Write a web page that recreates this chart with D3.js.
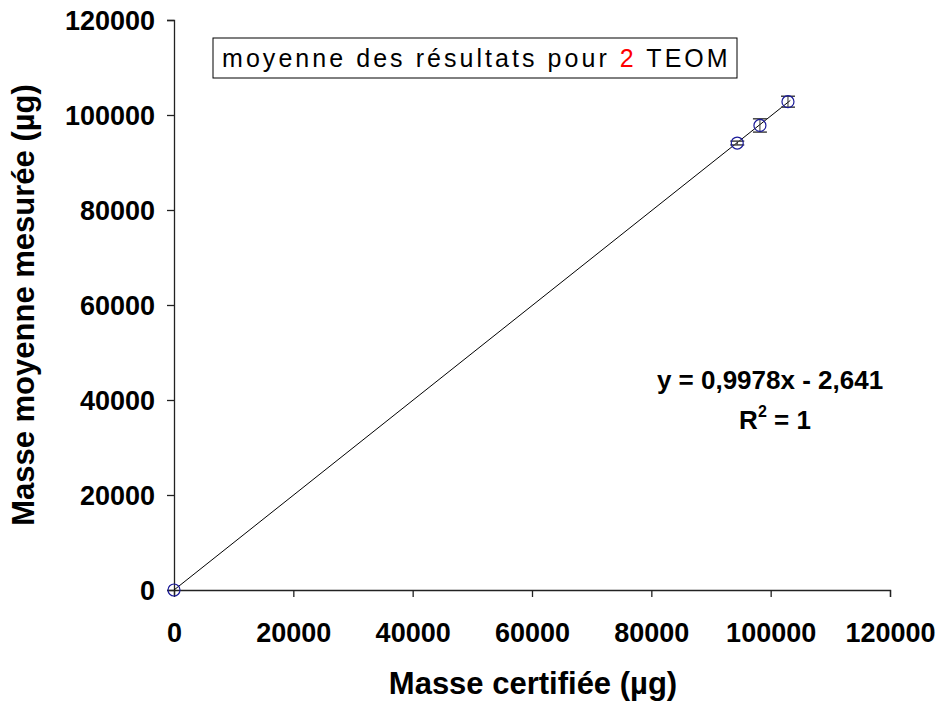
<!DOCTYPE html>
<html>
<head>
<meta charset="utf-8">
<script src="https://cdn.jsdelivr.net/npm/d3@7"></script>
<style>
  body { margin: 0; background: #fff; }
  text { font-family: "Liberation Sans", Arial, sans-serif; }
</style>
</head>
<body>
<script>
// data
var masseCertifiee = [0, 94400, 98200, 102900];
var masseMesuree = [0, 94100, 97800, 102800];
var ecartType = [0, 400, 1400, 1150];
var ticks = [0, 20000, 40000, 60000, 80000, 100000, 120000];
var pente = 0.9978, ordonnee = -2.641;

var margin = { left: 174, right: 50, top: 20, bottom: 116 };
var width = 940 - margin.left - margin.right;
var height = 706 - margin.top - margin.bottom;

var svg = d3.select("body").append("svg")
    .attr("width", 940)
    .attr("height", 706)
    .append("g")
    .attr("transform", `translate(${margin.left}, ${margin.top})`);

var x = d3.scaleLinear().domain([0, 120000]).range([0, width]);
var y = d3.scaleLinear().domain([0, 120000]).range([height, 0]);

var fmt = d3.format("d");
var xAxis = svg.append("g")
    .attr("transform", `translate(0, ${height})`)
    .call(d3.axisBottom(x).tickValues(ticks).tickFormat(fmt).tickSize(7).tickSizeOuter(7).tickPadding(26));
var yAxis = svg.append("g")
    .call(d3.axisLeft(y).tickValues(ticks).tickFormat(fmt).tickSize(7).tickSizeOuter(7).tickPadding(12));

[xAxis, yAxis].forEach(a => {
    a.select(".domain").attr("stroke", "#222").attr("stroke-width", 1.3);
    a.selectAll(".tick line").attr("stroke", "#222").attr("stroke-width", 1.3);
    a.selectAll("text")
        .attr("font-family", "Liberation Sans, Arial, sans-serif")
        .attr("font-size", 27)
        .attr("font-weight", "bold")
        .attr("fill", "#000");
});
yAxis.selectAll("text").attr("dy", "0.35em");

// axis titles
svg.append("text")
    .attr("x", 359)
    .attr("y", height + 104)
    .attr("text-anchor", "middle")
    .attr("font-size", 31)
    .attr("font-weight", "bold")
    .text("Masse certifiée (µg)");

svg.append("text")
    .attr("x", -(height / 2))
    .attr("y", -140)
    .attr("transform", "rotate(-90)")
    .attr("text-anchor", "middle")
    .attr("font-size", 31)
    .attr("font-weight", "bold")
    .text("Masse moyenne mesurée (µg)");

// trend line
var xMax = d3.max(masseCertifiee);
svg.append("line")
    .attr("x1", x(0)).attr("y1", y(ordonnee))
    .attr("x2", x(xMax + 400)).attr("y2", y(pente * (xMax + 400) + ordonnee))
    .attr("stroke", "#000")
    .attr("stroke-width", 1);

// error bars
var pts = masseCertifiee.map((d, i) => ({ x: d, y: masseMesuree[i], e: ecartType[i] }));
var err = svg.selectAll(".err").data(pts.filter(d => d.e > 0)).enter().append("g");
err.append("line")
    .attr("x1", d => x(d.x)).attr("x2", d => x(d.x))
    .attr("y1", d => y(d.y + d.e)).attr("y2", d => y(d.y - d.e))
    .attr("stroke", "#333");
[1, -1].forEach(s => {
    err.append("line")
        .attr("x1", d => x(d.x) - 7).attr("x2", d => x(d.x) + 7)
        .attr("y1", d => y(d.y + s * d.e)).attr("y2", d => y(d.y + s * d.e))
        .attr("stroke", "#444").attr("stroke-width", 1.5);
});

// points
svg.selectAll(".pt").data(pts).enter().append("circle")
    .attr("cx", d => x(d.x))
    .attr("cy", d => y(d.y))
    .attr("r", 6)
    .attr("fill", "none")
    .attr("stroke", "#1a1a99")
    .attr("stroke-width", 1.2);

// legend box
svg.append("rect")
    .attr("x", 39).attr("y", 18)
    .attr("width", 524).attr("height", 40)
    .attr("fill", "#fff")
    .attr("stroke", "#000");
var leg = svg.append("text")
    .attr("x", 48).attr("y", 47)
    .attr("font-size", 25)
    .attr("letter-spacing", 3.05);
leg.append("tspan").text("moyenne des résultats pour ");
leg.append("tspan").attr("fill", "#ff0000").text("2");
leg.append("tspan").text(" TEOM");

// equation
svg.append("text")
    .attr("x", 596).attr("y", 369)
    .attr("text-anchor", "middle")
    .attr("font-size", 26)
    .attr("font-weight", "bold")
    .text("y = 0,9978x - 2,641");
var r2 = svg.append("text")
    .attr("x", 601).attr("y", 409)
    .attr("text-anchor", "middle")
    .attr("font-size", 26)
    .attr("font-weight", "bold");
r2.append("tspan").text("R");
r2.append("tspan").attr("dy", -12).attr("font-size", 16).text("2");
r2.append("tspan").attr("dy", 12).text(" = 1");
</script>
</body>
</html>
